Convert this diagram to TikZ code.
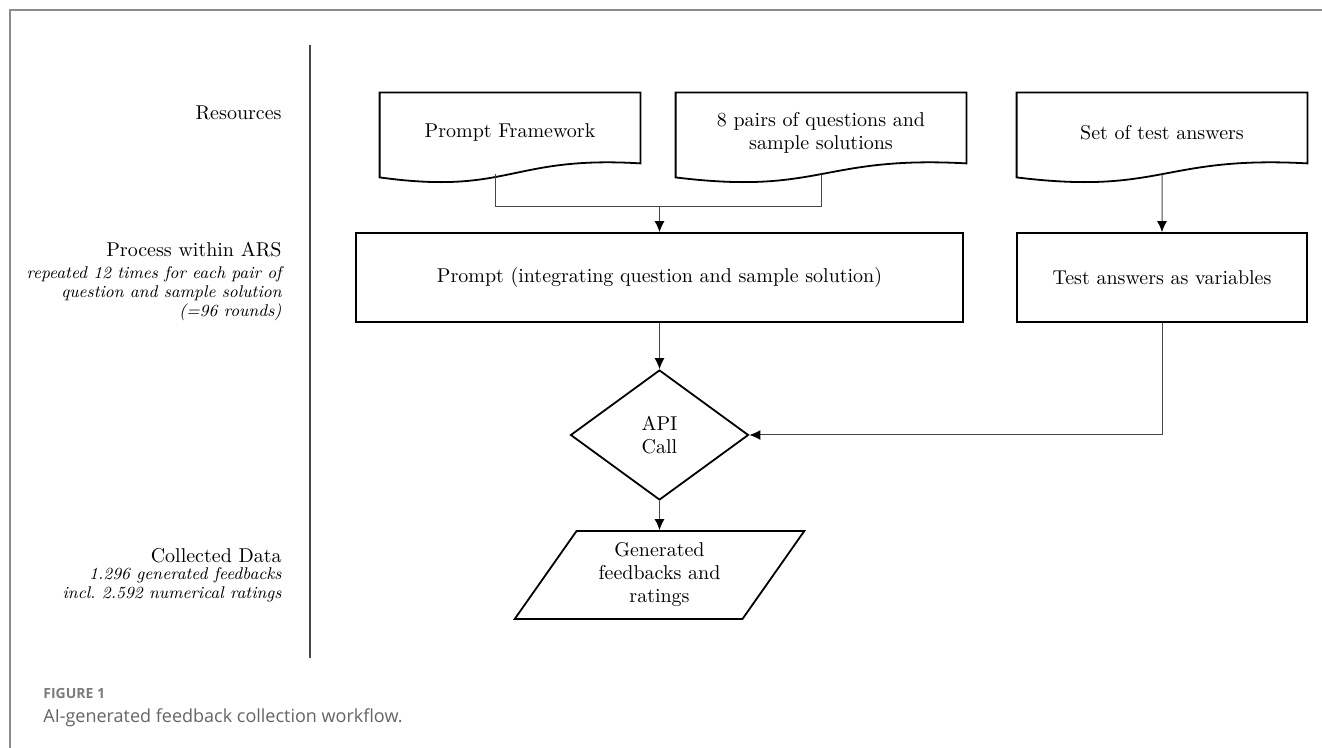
\documentclass[tikz,border=0pt]{standalone}
\usepackage{fontspec}
\newfontfamily\captionsans{Open Sans}
\usetikzlibrary{shapes.geometric, arrows.meta}
\definecolor{frameGray}{RGB}{140, 140, 140}
\definecolor{lineGray}{RGB}{70, 70, 70}
\definecolor{captionGray}{RGB}{100, 100, 100}

\begin{document}
\begin{tikzpicture}[node distance=155.5pt, auto, font=\fontsize{10}{11.5}\selectfont]
                    \tikzstyle{doc} = [rectangle, minimum width=145pt, minimum height=35pt, align=center, inner sep=0pt]
                    \tikzstyle{block} = [draw, rectangle, line width=0.9pt, minimum width=145pt, minimum height=44.5pt, align=center]
                    \tikzstyle{decision} = [draw, diamond, line width=0.9pt, minimum width=89pt, minimum height=65pt, inner sep=0pt, align=center]
                    \tikzstyle{io} = [draw, trapezium, trapezium left angle=57, trapezium right angle=123, trapezium stretches=true, line width=0.9pt, minimum width=145pt, minimum height=44pt, align=center]
                    \tikzstyle{phase} = [anchor=base east, inner sep=0pt, align=right]
                    \tikzstyle{note} = [anchor=north east, inner sep=0pt, align=right, font=\itshape\fontsize{8.5}{9.5}\selectfont]
                    \tikzstyle{line} = [draw, -{Latex[length=5.5pt,width=5pt,color=black]}, line width=0.5pt, lineGray]

                    \useasboundingbox (0,0) rectangle (661pt,-374pt);
                    \draw [frameGray, line width=1pt] (5pt,-374pt) -- (5pt,-5pt) -- (661pt,-5pt);
                    \draw [lineGray, line width=0.6pt] (155pt,-22.5pt) -- (155pt,-329pt);

                    % phases on the left
                    \node [phase] (res) at (141pt,-60pt) {Resources};
                    \node [phase] (proc) at (141pt,-128.5pt) {Process within ARS};
                    \node [note] (procnote) at (141pt,-133pt) {repeated 12 times for each pair of\\question and sample solution\\(=96 rounds)};
                    \node [phase] (coll) at (141pt,-281pt) {Collected Data};
                    \node [note] (collnote) at (141pt,-283.6pt) {1.296 generated feedbacks\\incl.\ 2.592 numerical ratings};

                    \node [doc, minimum width=130pt] (framework) at (255pt,-66.5pt) {Prompt Framework};
                    \node [doc, right of=framework] (pairs) {8 pairs of questions and\\sample solutions};
                    \node [doc, right of=pairs, xshift=15pt] (answers) {Set of test answers};
                    % document outline sits a bit above the text box
                    \foreach \d in {framework, pairs, answers}
                        \draw [line width=0.9pt] ([yshift=2.5pt]\d.south east) -- ([yshift=2.5pt]\d.north east) -- ([yshift=2.5pt]\d.north west) -- ([yshift=-4.5pt]\d.south west)
                            .. controls ([yshift=-13.5pt]\d.south) and ([yshift=6.5pt]\d.south) .. ([yshift=2.5pt]\d.south east) coordinate[pos=0.5] (\d-b) -- cycle;

                    \node [block, minimum width=303.5pt] (prompt) at (329.75pt,-138.75pt) {Prompt (integrating question and sample solution)};
                    \node [block, node distance=72.25pt, below of=answers] (variables) {Test answers as variables};
                    \node [decision, node distance=78.75pt, below of=prompt] (apicall) {API\\Call};
                    \node [io, node distance=70pt, below of=apicall] (feedback) {Generated\\feedbacks and\\ratings};

                    \coordinate (join) at ([yshift=13pt]prompt.north);
                    \draw [line width=0.5pt, lineGray] ([xshift=-7.5pt]framework-b) |- (join) -| (pairs-b);
                    \path [line] (join) -- (prompt);
                    \path [line] (answers-b) -- (variables);
                    \path [line] (prompt) -- (apicall);
                    \path [line] (variables) |- (apicall);
                    \path [line] (apicall) -- (feedback);

                    \node [anchor=base west, inner sep=0pt, text=captionGray!85, font=\captionsans\bfseries\fontsize{7}{8}\selectfont] (fig) at (21.5pt,-349pt) {FIGURE 1};
                    \node [anchor=base west, inner sep=0pt, text=captionGray, font=\captionsans\fontsize{9}{10}\selectfont] (caption) at (21.5pt,-361pt) {AI-generated feedback collection workflow.};
                \end{tikzpicture}
\end{document}
